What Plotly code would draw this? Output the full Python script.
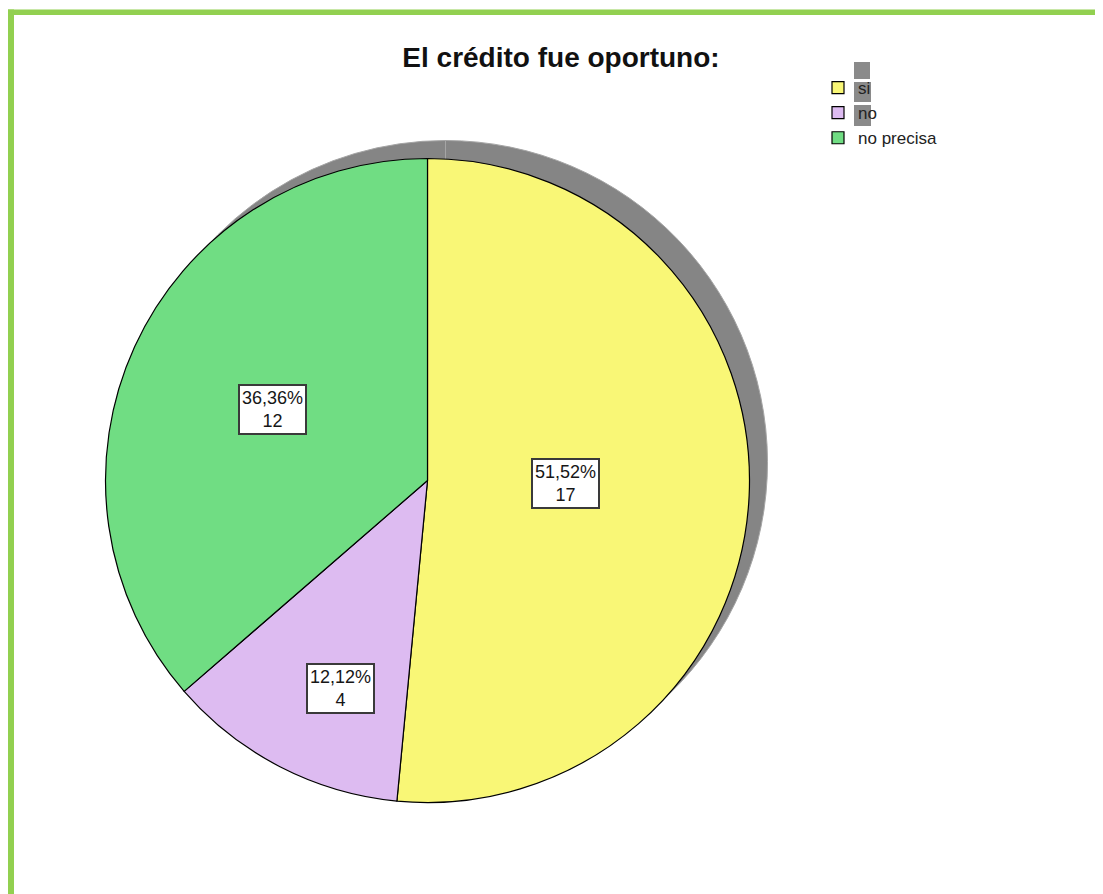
import math
import plotly.graph_objects as go

# ---- data ----
categories = ["si", "no", "no precisa"]
counts = [17, 4, 12]
slice_colors = ["#F9F776", "#DDBBF1", "#70DD83"]
title_text = "El crédito fue oportuno:"

# ---- layout helpers (page pixels -> paper; page body has 8px margin) ----
W, H = 1103, 894
OFF = 8
def px(x):
    return (x - OFF) / W
def py(y):
    return 1 - (y - OFF) / H

CX, CY, R = 427.5, 480.5, 322          # pie centre / radius in pixels
SHX, SHY = 18, -18                      # shadow offset in pixels

pie_dom_x = [px(CX - R), px(CX + R)]
pie_dom_y = [py(CY + R), py(CY - R)]
sh_dom_x = [px(CX - R + SHX), px(CX + R + SHX)]
sh_dom_y = [py(CY + R + SHY), py(CY - R + SHY)]

fig = go.Figure()

# shadow disc (same slices, grey)
fig.add_trace(go.Pie(
    labels=[c + " " for c in categories], values=counts, sort=False,
    direction="clockwise", rotation=0,
    marker=dict(colors=["#858585"] * len(counts), line=dict(color="#A5A5A5", width=1)),
    textinfo="none", hoverinfo="skip", showlegend=False,
    domain=dict(x=sh_dom_x, y=sh_dom_y),
))

# main pie
fig.add_trace(go.Pie(
    labels=categories, values=counts, sort=False,
    direction="clockwise", rotation=0,
    marker=dict(colors=slice_colors, line=dict(color="#000000", width=1.2)),
    textinfo="none", hovertemplate="%{label}: %{value}<extra></extra>",
    domain=dict(x=pie_dom_x, y=pie_dom_y),
))

# slice labels in white boxes (style: radial factor, angle shift in degrees)
label_radius = [0.43, 0.70, 0.53]
label_angle_shift = [-1.5, -4.5, 0.0]
total = sum(counts)
annotations = []
cum = 0
for i, v in enumerate(counts):
    mid = (cum + v / 2) / total * 2 * math.pi + math.radians(label_angle_shift[i])
    cum += v
    f = label_radius[i]
    x = CX + f * R * math.sin(mid)
    y = CY - f * R * math.cos(mid)
    pct = f"{100 * v / total:.2f}".replace(".", ",")
    annotations.append(dict(
        x=px(x), y=py(y), xref="paper", yref="paper",
        text=f"{pct}%<br>{v}", showarrow=False,
        font=dict(family="Liberation Sans, Arial", size=18, color="#161616"),
        bgcolor="#FFFFFF", bordercolor="#3A3A3A", borderwidth=2, borderpad=2,
        xanchor="center", yanchor="middle",
    ))

shapes = []
green = "#92D050"
# green frame (top and left)
shapes.append(dict(type="rect", xref="paper", yref="paper",
                   x0=px(8), x1=px(W + 20), y0=py(15), y1=py(9.5),
                   fillcolor=green, line=dict(width=0), layer="above"))
shapes.append(dict(type="rect", xref="paper", yref="paper",
                   x0=px(8), x1=px(14), y0=py(H + 20), y1=py(9.5),
                   fillcolor=green, line=dict(width=0), layer="above"))
# grey artefacts in legend
for (x0, y0, x1, y1) in [(854, 62, 870, 79), (854, 82, 871, 102), (854, 105, 871, 126)]:
    shapes.append(dict(type="rect", xref="paper", yref="paper",
                       x0=px(x0), x1=px(x1), y0=py(y1), y1=py(y0),
                       fillcolor="#8A8A8A", line=dict(width=0), layer="above"))

fig.update_layout(
    width=W, height=H,
    margin=dict(l=0, r=0, t=0, b=0),
    paper_bgcolor="#FFFFFF", plot_bgcolor="#FFFFFF",
    title=dict(text=f"<b>{title_text}</b>", x=px(561), xanchor="center",
               y=py(57), yanchor="middle", yref="container",
               font=dict(family="Liberation Sans, Arial", size=28, color="#111111")),
    showlegend=True,
    legend=dict(x=px(818), y=py(70), xanchor="left", yanchor="top",
                bgcolor="rgba(0,0,0,0)", font=dict(family="Liberation Sans, Arial", size=17, color="#222222"),
                traceorder="normal", tracegroupgap=0),
    annotations=annotations,
    shapes=shapes,
)

fig.write_html("out.html")
